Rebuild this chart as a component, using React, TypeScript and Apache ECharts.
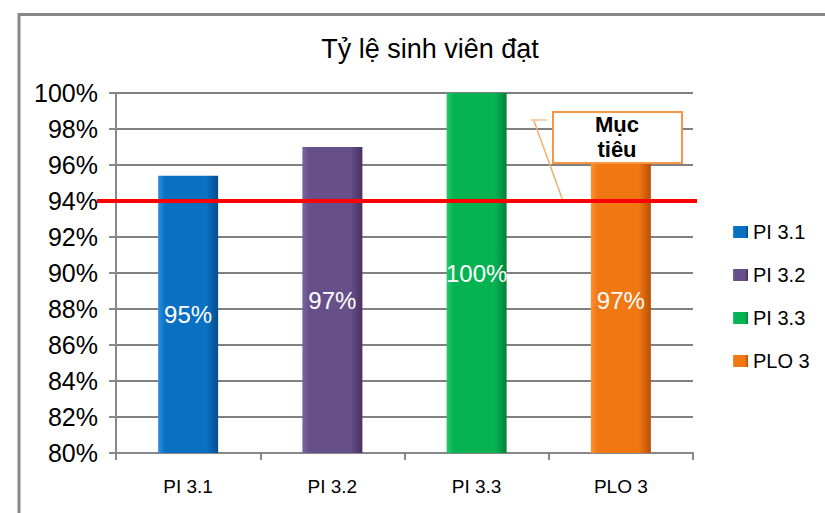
import React, { useEffect, useRef } from "react";
import * as echarts from "echarts";

const categories = ["PI 3.1", "PI 3.2", "PI 3.3", "PLO 3"];
const seriesNames = ["PI 3.1", "PI 3.2", "PI 3.3", "PLO 3"];
const values = [95.4, 97, 100, 97];
const valueLabels = ["95%", "97%", "100%", "97%"];
const targetValue = 94;
const yMin = 80;
const yMax = 100;
const yStep = 2;
const titleText = "Tỷ lệ sinh viên đạt";
const targetText = "Mục\ntiêu";

const palette = [
  { light: "#2E90E0", base: "#0A70C2", dark: "#064E8C" },
  { light: "#7C66A0", base: "#674F8A", dark: "#463260" },
  { light: "#25C86A", base: "#05B352", dark: "#03803A" },
  { light: "#FF9030", base: "#F07712", dark: "#B85006" },
];

const FONT = "Liberation Sans, Arial, sans-serif";

function grad(c: { light: string; base: string; dark: string }) {
  return new echarts.graphic.LinearGradient(0, 0, 1, 0, [
    { offset: 0, color: c.light },
    { offset: 0.12, color: c.base },
    { offset: 0.8, color: c.base },
    { offset: 1, color: c.dark },
  ]);
}

export default function App() {
  const ref = useRef<HTMLDivElement>(null);
  useEffect(() => {
    document.body.style.margin = "0";
    const chart = echarts.init(ref.current!, undefined, { renderer: "svg" });
    chart.setOption({
      animation: false,
      backgroundColor: "#ffffff",
      title: {
        text: titleText,
        left: 425,
        top: 30,
        textAlign: "center",
        textStyle: { fontSize: 27, fontWeight: "normal", color: "#000", fontFamily: FONT },
      },
      legend: {
        orient: "vertical",
        left: 728,
        top: 216,
        itemWidth: 15,
        itemHeight: 12,
        itemGap: 21,
        icon: "rect",
        data: seriesNames,
        textStyle: { fontSize: 20, color: "#000", fontFamily: FONT, lineHeight: 22 },
      },
      grid: { left: 116, right: 132, top: 93, bottom: 60, outerBoundsMode: "none" },
      xAxis: {
        type: "category",
        data: categories,
        axisLine: { show: true, lineStyle: { color: "#888", width: 2 } },
        axisTick: { show: true, length: 7, lineStyle: { color: "#888", width: 2 } },
        axisLabel: { fontSize: 19, color: "#000", margin: 24, fontFamily: FONT },
      },
      yAxis: {
        type: "value",
        min: yMin,
        max: yMax,
        interval: yStep,
        axisLine: { show: true, lineStyle: { color: "#888", width: 2 } },
        axisTick: { show: true, length: 7, lineStyle: { color: "#888", width: 2 } },
        axisLabel: { formatter: "{value}%", fontSize: 25, color: "#000", margin: 18, fontFamily: FONT },
        splitLine: { show: true, lineStyle: { color: "#808080", width: 2 } },
      },
      series: seriesNames.map((name, i) => ({
        type: "bar",
        name,
        data: categories.map((_, j) => (j === i ? values[i] : "-")),
        barWidth: 60,
        barGap: "-100%",
        itemStyle: { color: grad(palette[i]) },
        label: {
          show: true,
          position: "inside",
          formatter: valueLabels[i],
          color: "#fff",
          fontSize: 24,
          fontFamily: FONT,
        },
      })),
    });
    const yT = chart.convertToPixel({ yAxisIndex: 0 }, targetValue) as number;
    chart.setOption({
      graphic: [
        {
          type: "rect",
          shape: { x: 19, y: 14.5, width: 900, height: 600 },
          style: { fill: "none", stroke: "#888", lineWidth: 3 },
          silent: true,
        },
        {
          type: "polyline",
          shape: { points: [[531, 120], [547, 120]] },
          style: { stroke: "#F5C08A", lineWidth: 1.5, fill: "none" },
          z: 100,
        },
        {
          type: "line",
          shape: { x1: 534, y1: 121, x2: 563, y2: yT },
          style: { stroke: "#F0B070", lineWidth: 1.5 },
          z: 100,
        },
        {
          type: "line",
          shape: { x1: 97, y1: yT, x2: 697, y2: yT },
          style: { stroke: "#FF0000", lineWidth: 4 },
          z: 101,
        },
        {
          type: "rect",
          shape: { x: 553, y: 112, width: 129, height: 51 },
          style: { fill: "#fff", stroke: "#F79646", lineWidth: 2 },
          z: 102,
        },
        {
          type: "text",
          x: 617,
          y: 137,
          style: {
            text: targetText,
            align: "center",
            verticalAlign: "middle",
            fontSize: 22,
            fontWeight: "bold",
            lineHeight: 25,
            fill: "#000",
            fontFamily: FONT,
          },
          z: 103,
        },
      ],
    });
    return () => chart.dispose();
  }, []);
  return <div ref={ref} style={{ width: 825, height: 513 }} />;
}
